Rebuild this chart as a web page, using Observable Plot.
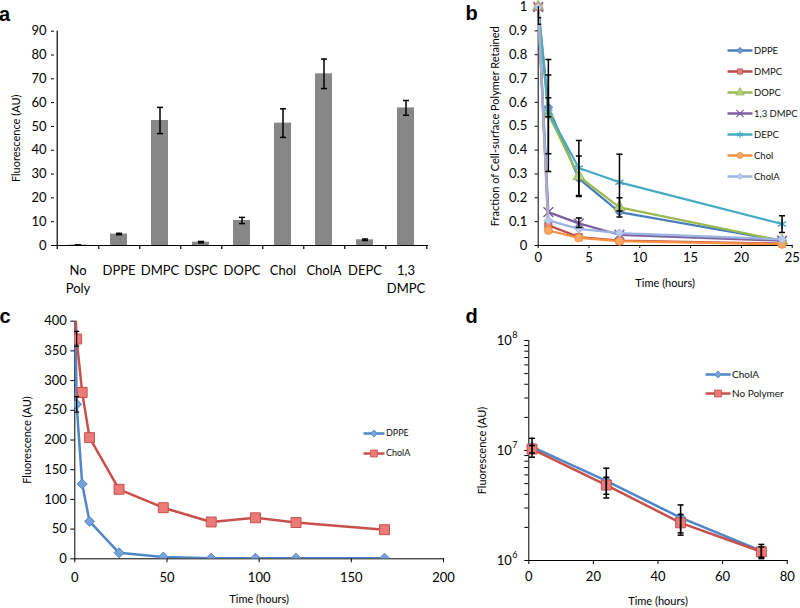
<!DOCTYPE html>
<html><head><meta charset="utf-8">
<script src="https://cdn.jsdelivr.net/npm/d3@7"></script>
<script src="https://cdn.jsdelivr.net/npm/@observablehq/plot@0.6"></script>
<style>
html,body{margin:0;padding:0;background:#fff;}
#chart{position:relative;width:800px;height:608px;overflow:hidden;font-family:Lato,sans-serif;}
.panel-label{position:absolute;font:bold 20px "Liberation Sans",Arial,sans-serif;line-height:20px;color:#000;}
</style></head><body><div id="chart"></div>
<script>
// ---------- DATA ----------
// Panel a
const aCategories = ["No Poly","DPPE","DMPC","DSPC","DOPC","Chol","CholA","DEPC","1,3 DMPC"];
const aTickLabels = ["No\nPoly","DPPE","DMPC","DSPC","DOPC","Chol","CholA","DEPC","1,3\nDMPC"];
const aValues = [0.2, 4.8, 52.5, 1.4, 10.5, 51.4, 72.1, 2.4, 57.8];
const aErrors = [0, 0.3, 5.5, 0.3, 1.3, 6.0, 6.2, 0.3, 3.1];
const aYTicks = [0,10,20,30,40,50,60,70,80,90];

// Panel b
const bTimes = [0, 1, 4, 8, 24];
const bNames = ["DPPE","DMPC","DOPC","1,3 DMPC","DEPC","Chol","CholA"];
const bDPPE   = [1, 0.58, 0.28, 0.14, 0.02];
const bDMPC   = [1, 0.085, 0.035, 0.02, 0.008];
const bDOPC   = [1, 0.55, 0.29, 0.16, 0.02];
const bDMPC13 = [1, 0.14, 0.093, 0.045, 0.02];
const bDEPC   = [1, 0.56, 0.325, 0.265, 0.09];
const bChol   = [1, 0.063, 0.032, 0.018, 0.005];
const bCholA  = [1, 0.105, 0.07, 0.052, 0.026];
const bErrTimes = [0, 0, 1, 1, 1, 4, 4, 4, 8, 8, 24];
const bErrLow   = [0.928, 0.955, 0.31, 0.385, 0.54, 0.21, 0.205, 0.075, 0.145, 0.12, 0.055];
const bErrHigh  = [1.072, 1.045, 0.78, 0.715, 0.62, 0.44, 0.375, 0.115, 0.383, 0.2, 0.125];
const bXTicks = [0,5,10,15,20,25];
const bYTicks = [0,0.1,0.2,0.3,0.4,0.5,0.6,0.7,0.8,0.9,1];

// Panel c
const cTimes = [0, 1, 4, 8, 24, 48, 74, 98, 120, 168];
const cNames = ["DPPE","CholA"];
const cDPPE  = [460, 260, 126, 63, 10, 3, 1, 1, 1, 1];
const cCholA = [440, 370, 280, 204, 117, 86, 62, 69, 61, 49];
const cErrTimes = [1, 1];
const cErrLow   = [247, 358];
const cErrHigh  = [273, 383];
const cXTicks = [0,50,100,150,200];
const cYTicks = [0,50,100,150,200,250,300,350,400];

// Panel d
const dTimes = [1, 24, 47, 72];
const dNames = ["CholA","No Polymer"];
const dCholA     = [1.08e7, 5.3e6, 2.45e6, 1.22e6];
const dNoPolymer = [1.03e7, 4.85e6, 2.2e6, 1.2e6];
const dCholAErr     = [2.1e6, 1.6e6, 0.75e6, 0.18e6];
const dNoPolymerErr = [0.8e6, 0.85e6, 0.42e6, 0.13e6];
const dXTicks = [0,20,40,60,80];
const dYTicks = [1e6,2e6,3e6,4e6,5e6,6e6,7e6,8e6,9e6,1e7,2e7,3e7,4e7,5e7,6e7,7e7,8e7,9e7,1e8];
const dMajorTicks = [1e6, 1e7, 1e8];
const dExponents = ["6","7","8"];

// ---------- HELPERS ----------
const chart = document.getElementById("chart");
const capSymbol = {draw(ctx, size){ const r = Math.sqrt(size/Math.PI); ctx.moveTo(-r,0); ctx.lineTo(r,0); }};
function svgStyle(left, top){
  return `position:absolute;left:${left}px;top:${top}px;background:transparent;font-family:Lato,sans-serif;font-size:13px;color:black;overflow:visible;max-width:none;`;
}
function seriesMarks(xs, ys, st){
  const pts = xs.map((x,i)=>({x, y: ys[i]}));
  const stroky = st.symbol === "times" || st.symbol === "asterisk";
  return [
    Plot.line(pts, {x:"x", y:"y", stroke: st.color, strokeWidth: st.lineWidth, clip: true}),
    Plot.dot(pts, {x:"x", y:"y", symbol: st.symbol, r: st.r,
      fill: stroky ? "none" : st.fill, stroke: st.color, strokeWidth: stroky ? 1.5 : 1, clip: st.clipDots})
  ];
}
function errorMarks(xs, lo, hi, capR, clip, width = 1.5){
  const e = xs.map((x,i)=>({x, lo: lo[i], hi: hi[i]}));
  return [
    Plot.ruleX(e, {x:"x", y1:"lo", y2:"hi", stroke:"black", strokeWidth:width, clip}),
    Plot.dot(e, {x:"x", y:"lo", symbol: capSymbol, r: capR, stroke:"black", strokeWidth:width, fill:"none", clip}),
    Plot.dot(e, {x:"x", y:"hi", symbol: capSymbol, r: capR, stroke:"black", strokeWidth:width, fill:"none", clip})
  ];
}
function axisTitleY(text, dx){
  return Plot.text([text], {frameAnchor:"left", textAnchor:"middle", lineAnchor:"middle", dx, rotate: -90, fontSize: 11, fill:"black"});
}
function axisTitleX(text, dy){
  return Plot.text([text], {frameAnchor:"bottom", textAnchor:"middle", lineAnchor:"middle", dy, fontSize: 11, fill:"black"});
}
function legend(names, styles, box){
  const marks = [];
  names.forEach((name, i) => {
    const st = styles[i];
    const stroky = st.symbol === "times" || st.symbol === "asterisk";
    marks.push(Plot.link([name], {x1: 0, x2: 1, y1: d=>d, y2: d=>d, stroke: st.color, strokeWidth: 2.5}));
    marks.push(Plot.dot([name], {x: 0.5, y: d=>d, symbol: st.symbol, r: st.r*box.markerScale,
      fill: stroky ? "none" : st.fill, stroke: st.color, strokeWidth: stroky ? 1.2 : 0.8}));
    marks.push(Plot.text([name], {x: 1, y: d=>d, text: d=>d, textAnchor:"start", dx: 1.5, fontSize: box.fontSize, fill:"#111"}));
  });
  return Plot.plot({
    width: box.lineW + box.textW, height: box.h, marginLeft: 0, marginRight: box.textW,
    marginTop: box.pad, marginBottom: box.pad,
    style: svgStyle(box.left, box.top),
    x: {domain:[0,1], axis:null},
    y: {type:"point", domain: names, padding: 0, axis: null},
    marks
  });
}

// ---------- PANEL A ----------
{
  const W=432, H=300, ML=54, MR=4, MT=30.7, MB=55;
  const step = (W-ML-MR)/aCategories.length;
  const plotH = H-MT-MB;
  const p = Plot.plot({
    width: W, height: H, marginLeft: ML, marginRight: MR, marginTop: MT, marginBottom: MB,
    style: svgStyle(0,0),
    x: {type:"band", domain: aCategories, paddingInner: 0.59, paddingOuter: 0.295, axis: null},
    y: {domain:[0,90], ticks: aYTicks, tickSize: 3, tickPadding: 5, label: null},
    marks: [
      Plot.barY(aCategories, {x: d=>d, y: (d,i)=>aValues[i], fill: "#878787"}),
      Plot.ruleX(aCategories, {x: d=>d, y1: (d,i)=>aValues[i]-aErrors[i], y2: (d,i)=>aValues[i]+aErrors[i], stroke:"black", strokeWidth:1.5}),
      Plot.dot(aCategories, {x: d=>d, y: (d,i)=>aValues[i]-aErrors[i], symbol: capSymbol, r: 3, stroke:"black", strokeWidth:1.5, fill:"none"}),
      Plot.dot(aCategories, {x: d=>d, y: (d,i)=>aValues[i]+aErrors[i], symbol: capSymbol, r: 3, stroke:"black", strokeWidth:1.5, fill:"none"}),
      Plot.ruleY([0], {stroke:"black", strokeWidth:1.2}),
      Plot.ruleX([aCategories[0]], {x: d=>d, dx: -step/2, insetBottom: -4, stroke:"black", strokeWidth:1.2}),
      Plot.ruleX(aCategories, {x: d=>d, dx: step/2, insetTop: plotH, insetBottom: -4, stroke:"black", strokeWidth:1.2}),
      Plot.text(aCategories, {x: d=>d, text: (d,i)=>aTickLabels[i], frameAnchor:"bottom", lineAnchor:"top", dy: 16.5, lineHeight: 1.41, fontSize: 13, fill:"black"}),
      axisTitleY("Fluorescence (AU)", -38)
    ]
  });
  chart.appendChild(p);
}

// ---------- PANEL B ----------
const bStyles = [
  {color:"#4A7EBB", fill:"#6E9AD1", symbol:"diamond2", r:3.8},
  {color:"#BE4B48", fill:"#E4827F", symbol:"square", r:3.9},
  {color:"#98B954", fill:"#B5D17A", symbol:"triangle", r:4.2},
  {color:"#7D60A0", fill:"none", symbol:"times", r:4.5},
  {color:"#46AAC5", fill:"none", symbol:"asterisk", r:4.5},
  {color:"#F69240", fill:"#F9A866", symbol:"circle", r:4},
  {color:"#9AB3E0", fill:"#B9CCEC", symbol:"diamond2", r:3.8}
];
{
  const W=370, H=300, ML=107.7, MR=8.3, MT=6.5, MB=55;
  const bSeriesValues = [bDPPE, bDMPC, bDOPC, bDMPC13, bDEPC, bChol, bCholA];
  const marks = [];
  bSeriesValues.forEach((vals, i) => marks.push(...seriesMarks(bTimes, vals, {...bStyles[i], lineWidth: 2.25, clipDots: false})));
  marks.push(...errorMarks(bErrTimes, bErrLow, bErrHigh, 3, true));
  marks.push(axisTitleY("Fraction of Cell-surface Polymer Retained", -42.7));
  marks.push(axisTitleX("Time (hours)", 38));
  const p = Plot.plot({
    width: W, height: H, marginLeft: ML, marginRight: MR, marginTop: MT, marginBottom: MB,
    style: svgStyle(430,0),
    x: {domain:[0,25], ticks: bXTicks, tickSize: 3, tickPadding: 4, line: true, label: null},
    y: {domain:[0,1], ticks: bYTicks, tickSize: 3, tickPadding: 8, line: true, label: null, tickFormat: d3.format("~g")},
    marks
  });
  chart.appendChild(p);
  chart.appendChild(legend(bNames, bStyles, {left: 726.7, top: 36.7, lineW: 25, textW: 48, h: 151.6, pad: 10, fontSize: 9.5, markerScale: 0.75}));
}

// ---------- PANEL C ----------
const cStyles = [
  {color:"#4F86C6", fill:"#78A3DA", symbol:"diamond2", r:4.5},
  {color:"#C8504C", fill:"#EB7B77", symbol:"square", r:5.6}
];
{
  const W=460, H=308, ML=74.3, MR=17, MT=20.7, MB=49.7;
  const marks = [];
  [cDPPE, cCholA].forEach((vals, i) => marks.push(...seriesMarks(cTimes, vals, {...cStyles[i], lineWidth: 2.5, clipDots: true})));
  marks.push(...errorMarks(cErrTimes, cErrLow, cErrHigh, 2.5, true, 1.2));
  marks.push(axisTitleY("Fluorescence (AU)", -47.6));
  marks.push(axisTitleX("Time (hours)", 40.7));
  const p = Plot.plot({
    width: W, height: H, marginLeft: ML, marginRight: MR, marginTop: MT, marginBottom: MB,
    style: svgStyle(0,300),
    x: {domain:[0,200], ticks: cXTicks, tickSize: 4, tickPadding: 10, line: true, label: null},
    y: {domain:[0,400], ticks: cYTicks, tickSize: 4, tickPadding: 4, line: true, label: null},
    marks
  });
  chart.appendChild(p);
  chart.appendChild(legend(cNames, cStyles, {left: 362.7, top: 424, lineW: 21, textW: 45, h: 38.3, pad: 9, fontSize: 9, markerScale: 0.7}));
}

// ---------- PANEL D ----------
const dStyles = [
  {color:"#4F86C6", fill:"#78A3DA", symbol:"diamond2", r:4.5},
  {color:"#C8504C", fill:"#EB7B77", symbol:"square", r:5.6}
];
{
  const W=370, H=308, ML=98.3, MR=13.3, MT=40, MB=48;
  const marks = [];
  [dCholA, dNoPolymer].forEach((vals, i) => marks.push(...seriesMarks(dTimes, vals, {...dStyles[i], lineWidth: 2.5, clipDots: false})));
  marks.push(...errorMarks(dTimes, dCholA.map((v,i)=>v-dCholAErr[i]), dCholA.map((v,i)=>v+dCholAErr[i]), 3, false));
  marks.push(...errorMarks(dTimes, dNoPolymer.map((v,i)=>v-dNoPolymerErr[i]), dNoPolymer.map((v,i)=>v+dNoPolymerErr[i]), 3, false));
  marks.push(Plot.text(dMajorTicks, {y: d=>d, text: (d,i)=>dExponents[i], frameAnchor:"left", textAnchor:"start", dx: -16.5, dy: -5, fontSize: 9, fill:"black"}));
  marks.push(axisTitleY("Fluorescence (AU)", -46.3));
  marks.push(axisTitleX("Time (hours)", 41));
  const p = Plot.plot({
    width: W, height: H, marginLeft: ML, marginRight: MR, marginTop: MT, marginBottom: MB,
    style: svgStyle(430,300),
    x: {domain:[0,80], ticks: dXTicks, tickSize: 4, tickPadding: 7, line: true, label: null},
    y: {type:"log", domain:[1e6,1e8], ticks: dYTicks, tickSize: 4, tickPadding: 13, line: true, label: null,
        tickFormat: d => dMajorTicks.includes(d) ? "10" : ""},
    marks
  });
  chart.appendChild(p);
  chart.appendChild(legend(dNames, dStyles, {left: 705, top: 365, lineW: 25, textW: 60, h: 37.3, pad: 9, fontSize: 10, markerScale: 0.7}));
}

// ---------- PANEL LABELS ----------
[["a",-1,3.6],["b",465.5,3.1],["c",-0.5,305.7],["d",465.5,305.8]].forEach(([t,l,tp]) => {
  const el = document.createElement("div");
  el.className = "panel-label";
  el.style.left = l + "px"; el.style.top = tp + "px";
  el.textContent = t;
  chart.appendChild(el);
});
</script></body></html>
